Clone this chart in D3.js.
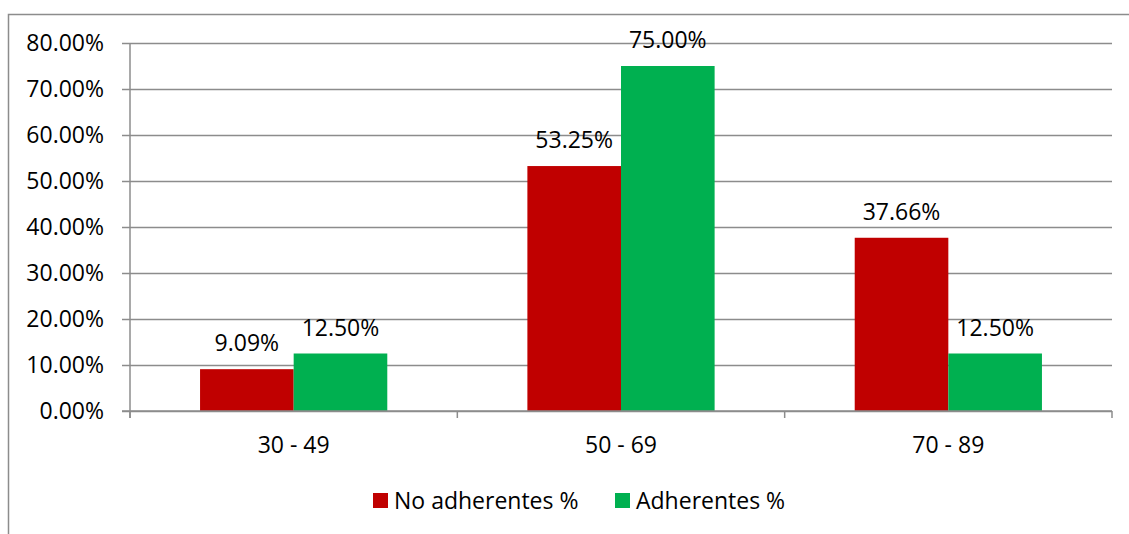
<!DOCTYPE html>
<html>
<head>
<meta charset="utf-8">
<script src="https://cdn.jsdelivr.net/npm/d3@7"></script>
<style>
  html, body { margin: 0; padding: 0; background: #fff; }
  svg { display: block; font-family: "Open Sans", Lato, sans-serif; }
</style>
</head>
<body>
<svg id="chart" width="1129" height="534"></svg>
<script>
// Age groups and the share of each group per adherence class
const categories = ["30 - 49", "50 - 69", "70 - 89"];
const seriesNames = ["No adherentes %", "Adherentes %"];
const noAdherentes = [9.09, 53.25, 37.66];
const adherentes = [12.50, 75.00, 12.50];
const yTicks = [0, 10, 20, 30, 40, 50, 60, 70, 80];
const seriesColors = ["#c00000", "#00b050"];

const svg = d3.select("#chart");
const fontSize = 23;
const fontFamily = "'Open Sans', Lato, sans-serif";
const gridColor = "#8c8c8c";

// Outer chart frame
svg.append("path")
  .attr("d", "M8.5,540 V14.5 H1135")
  .attr("fill", "none")
  .attr("stroke", gridColor)
  .attr("stroke-width", 1.5);

const plot = { left: 130, right: 1112, top: 43, bottom: 411 };

const y = d3.scaleLinear().domain([0, 80]).range([plot.bottom, plot.top]);
const x0 = d3.scaleBand().domain(categories).range([plot.left, plot.right]).padding(0);
const groupFrac = 0.572;
const x1 = d3.scaleBand().domain(seriesNames)
  .range([x0.bandwidth() * (1 - groupFrac) / 2, x0.bandwidth() * (1 + groupFrac) / 2])
  .padding(0);

// Horizontal gridlines with left tick marks
const yAxis = d3.axisLeft(y)
  .tickValues(yTicks)
  .tickSize(-(plot.right - plot.left))
  .tickFormat(d => d3.format(".2f")(d) + "%");

const gy = svg.append("g")
  .attr("transform", `translate(${plot.left},0)`)
  .call(yAxis);
gy.select(".domain").remove();
gy.selectAll(".tick line")
  .attr("x1", -8)
  .attr("stroke", gridColor)
  .attr("stroke-width", 1.5);
gy.selectAll(".tick text")
  .attr("x", -26)
  .attr("fill", "#000")
  .style("font-size", fontSize + "px")
  .style("font-family", fontFamily);

// Vertical axis line
svg.append("line")
  .attr("x1", plot.left).attr("x2", plot.left)
  .attr("y1", plot.top).attr("y2", plot.bottom + 7)
  .attr("stroke", gridColor).attr("stroke-width", 1.5);

// Category axis with tick marks at band boundaries
const boundaries = categories.map(c => x0(c)).concat([plot.right]);
svg.append("g").selectAll("line")
  .data(boundaries)
  .join("line")
  .attr("x1", d => d).attr("x2", d => d)
  .attr("y1", plot.bottom).attr("y2", plot.bottom + 7)
  .attr("stroke", gridColor).attr("stroke-width", 1.5);

// Bars
const rows = categories.map((c, i) => ({
  cat: c,
  vals: [
    { key: seriesNames[0], v: noAdherentes[i], color: seriesColors[0] },
    { key: seriesNames[1], v: adherentes[i], color: seriesColors[1] }
  ]
}));

const groups = svg.append("g").selectAll("g")
  .data(rows)
  .join("g")
  .attr("transform", d => `translate(${x0(d.cat)},0)`);

groups.selectAll("rect")
  .data(d => d.vals)
  .join("rect")
  .attr("x", d => x1(d.key))
  .attr("width", x1.bandwidth())
  .attr("y", d => y(d.v))
  .attr("height", d => y(0) - y(d.v))
  .attr("fill", d => d.color);

// Value labels above bars
groups.selectAll("text")
  .data(d => d.vals)
  .join("text")
  .attr("x", d => x1(d.key) + x1.bandwidth() / 2)
  .attr("y", d => y(d.v) - 18)
  .attr("text-anchor", "middle")
  .attr("fill", "#000")
  .style("font-size", fontSize + "px")
  .text(d => d3.format(".2f")(d.v) + "%");

// x axis redrawn over bar bottoms
svg.append("line")
  .attr("x1", plot.left - 8).attr("x2", plot.right)
  .attr("y1", plot.bottom).attr("y2", plot.bottom)
  .attr("stroke", gridColor).attr("stroke-width", 1.5);

// Category labels
svg.append("g").selectAll("text")
  .data(categories)
  .join("text")
  .attr("x", d => x0(d) + x0.bandwidth() / 2)
  .attr("y", 453)
  .attr("text-anchor", "middle")
  .attr("fill", "#000")
  .style("font-size", fontSize + "px")
  .text(d => d);

// Legend
const legendItems = [
  { name: seriesNames[0], color: seriesColors[0], x: 373 },
  { name: seriesNames[1], color: seriesColors[1], x: 615 }
];
const lg = svg.append("g").selectAll("g")
  .data(legendItems)
  .join("g")
  .attr("transform", d => `translate(${d.x},493)`);
lg.append("rect")
  .attr("width", 15).attr("height", 15)
  .attr("fill", d => d.color);
lg.append("text")
  .attr("x", 21)
  .attr("y", 16)
  .attr("fill", "#000")
  .style("font-size", fontSize + "px")
  .text(d => d.name);
</script>
</body>
</html>
